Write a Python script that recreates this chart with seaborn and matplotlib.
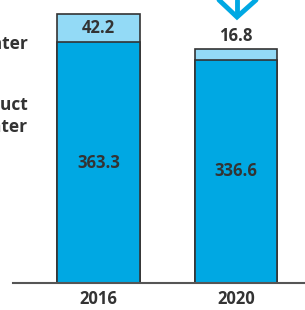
import seaborn as sns
import pandas as pd
import matplotlib.pyplot as plt
from matplotlib.lines import Line2D

years = ["2016", "2020"]
lower_vals = [363.3, 336.6]
upper_vals = [42.2, 16.8]
side_labels = ["Wastewater", "Product\nwater"]

totals = [a + b for a, b in zip(lower_vals, upper_vals)]
df = pd.DataFrame({"year": years, "lower": lower_vals, "upper": upper_vals, "total": totals})

sns.set_style("white")
plt.rcParams['font.family'] = ['Open Sans', 'DejaVu Sans']

dark = "#00A8E3"
light = "#93DAF6"
edge = "#333333"
txt = "#333333"

fig = plt.figure(figsize=(3.05, 3.10), dpi=100)
ax = fig.add_axes([13 / 305, 27 / 310, 1 - 13 / 305, 283 / 310])

sns.barplot(data=df, x="year", y="total", color=light, width=0.6,
            edgecolor=edge, linewidth=1.2, saturation=1, ax=ax)
sns.barplot(data=df, x="year", y="lower", color=dark, width=0.6,
            edgecolor=edge, linewidth=1.2, saturation=1, ax=ax)

ax.set_xlim(-0.62, 1.50)
ax.set_ylim(0, 427)
ax.set(xlabel="", ylabel="", yticks=[])
for s in ["top", "right", "left"]:
    ax.spines[s].set_visible(False)
ax.spines["bottom"].set_color("#555555")
ax.spines["bottom"].set_linewidth(1.5)
ax.tick_params(axis="x", length=0, pad=5, labelsize=12, labelcolor=txt)
for lab in ax.get_xticklabels():
    lab.set_fontweight("bold")

fs = 12
# value labels
for i, (lo, up) in enumerate(zip(lower_vals, upper_vals)):
    ax.text(i, lo / 2, f"{lo:.1f}", ha="center", va="center",
            fontsize=fs, fontweight="bold", color=txt)
    if up > 30:
        ax.text(i, lo + up / 2, f"{up:.1f}", ha="center", va="center",
                fontsize=fs, fontweight="bold", color=txt)
    else:
        ax.text(i, lo + up + 5, f"{up:.1f}", ha="center", va="bottom",
                fontsize=fs, fontweight="bold", color=txt)

# side legend labels (cut off at the left edge)
fig.text(28 / 305, 1 - 44 / 310, side_labels[0], ha="right", va="center",
         fontsize=12.5, fontweight="bold", color=txt)
fig.text(28 / 305, 1 - 116 / 310, side_labels[1], ha="right", va="center",
         fontsize=12.5, fontweight="bold", color=txt, linespacing=1.35)

# down arrow decoration
W, H = 305, 310
pts_x = [219, 237, 256]
pts_y = [0, 17, 0]
fig.add_artist(Line2D([x / W for x in pts_x], [1 - y / H for y in pts_y],
                      color=dark, linewidth=3.5, solid_joinstyle="miter"))
fig.add_artist(Line2D([237 / W, 237 / W], [1, 1 - 12 / H], color=dark, linewidth=3.5))

fig.savefig("out.png", dpi=100)
